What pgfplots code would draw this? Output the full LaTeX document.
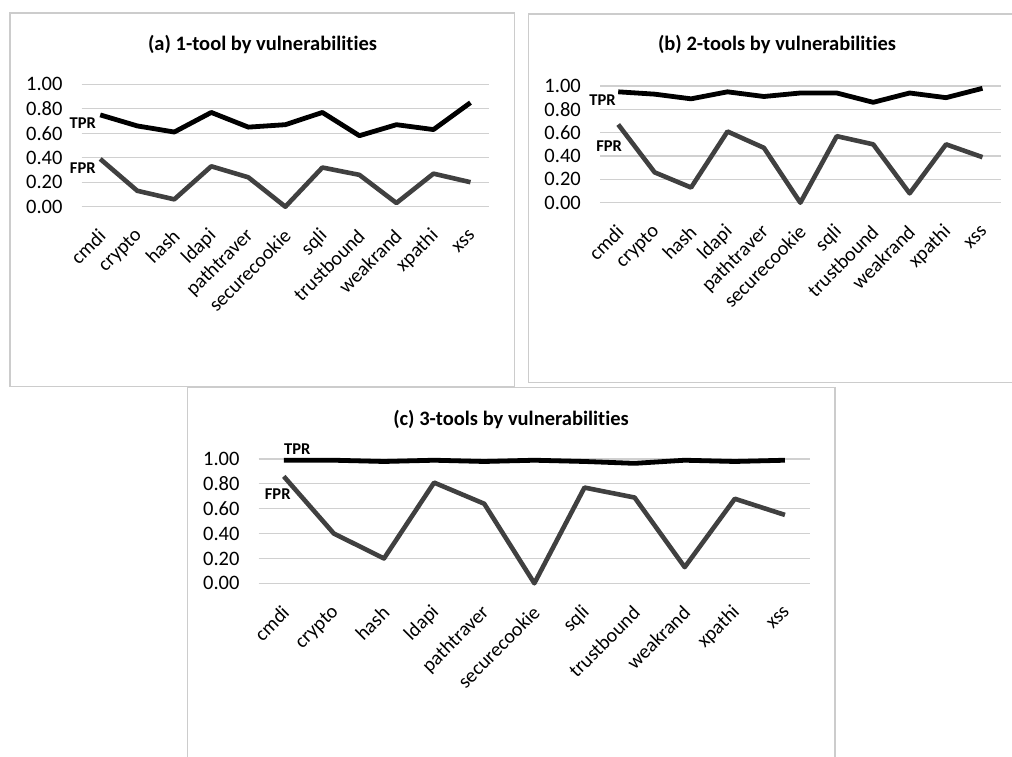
\documentclass[border=0pt]{standalone}
\usepackage{fontspec}
\setmainfont{Carlito}[Ligatures={NoCommon}]
\usepackage{pgfplots}
\pgfplotsset{compat=1.18}

\definecolor{fprgray}{HTML}{404040}
\definecolor{gridgray}{HTML}{D0D0D0}
\definecolor{boxgray}{HTML}{CCCCCC}

\tikzset{
  tprline/.style={black, line width=4.8pt, line join=round, mark=none},
  fprline/.style={fprgray, line width=4.6pt, line join=round, mark=none},
  lbl/.style={font=\bfseries\fontsize{16.5}{17}\selectfont, inner sep=0pt},
}
\pgfplotsset{
  vulnstyle/.style={
    scale only axis,
    axis line style={draw=none},
    xmin=-0.5, xmax=10.5, ymin=0, ymax=1,
    xtick={0,...,10},
    xticklabels={cmdi,crypto,hash,ldapi,pathtraver,securecookie,sqli,trustbound,weakrand,xpathi,xss},
    ytick={0,0.2,0.4,0.6,0.8,1},
    yticklabels={0.00,0.20,0.40,0.60,0.80,1.00},
    major tick length=0pt,
    ymajorgrids,
    grid style={gridgray, line width=1.2pt},
    y tick label style={font=\fontsize{20.5}{21}\selectfont, anchor=east, inner sep=0pt, xshift=-19pt},
    x tick label style={font=\fontsize{20}{21}\selectfont, xshift=2pt, yshift=-26pt, rotate=45, anchor=east, inner sep=0pt},
    clip=false,
  },
}

\begin{document}
\begin{tikzpicture}[x=1pt,y=1pt]
\useasboundingbox (0,0) rectangle (1012,757);
\fill[white] (0,0) rectangle (1012,757);

% panel frames
\draw[boxgray, line width=1.5pt] (10,744) rectangle (514.5,370.5);
\draw[boxgray, line width=1.5pt] (528.3,743) rectangle (1030,374.7);
\draw[boxgray, line width=1.5pt] (187.3,369.7) rectangle (835,-50);

% titles
\node[font=\bfseries\fontsize{20.5}{21}\selectfont] at (262.5,712) {(a) 1-tool by vulnerabilities};
\node[font=\bfseries\fontsize{20.5}{21}\selectfont] at (777,712) {(b) 2-tools by vulnerabilities};
\node[font=\bfseries\fontsize{20.5}{21}\selectfont] at (511,337) {(c) 3-tools by vulnerabilities};

% (a)
\begin{axis}[vulnstyle, at={(81.7pt,550.3pt)}, anchor=south west, width=407.3pt, height=122.4pt]
\addplot[tprline] coordinates {(0,0.75) (1,0.66) (2,0.61) (3,0.77) (4,0.65) (5,0.67) (6,0.77) (7,0.58) (8,0.67) (9,0.63) (10,0.85)};
\addplot[fprline] coordinates {(0,0.39) (1,0.13) (2,0.06) (3,0.33) (4,0.24) (5,0.00) (6,0.32) (7,0.26) (8,0.03) (9,0.27) (10,0.20)};
\node[lbl] at (axis cs:-0.47,0.681) {TPR};
\node[lbl] at (axis cs:-0.47,0.314) {FPR};
\end{axis}

% (b)
\begin{axis}[vulnstyle, at={(600pt,554.3pt)}, anchor=south west, width=400.7pt, height=116.7pt]
\addplot[tprline] coordinates {(0,0.95) (1,0.93) (2,0.89) (3,0.95) (4,0.91) (5,0.94) (6,0.94) (7,0.86) (8,0.94) (9,0.90) (10,0.98)};
\addplot[fprline] coordinates {(0,0.67) (1,0.26) (2,0.13) (3,0.61) (4,0.47) (5,0.00) (6,0.57) (7,0.50) (8,0.08) (9,0.50) (10,0.39)};
\node[lbl] at (axis cs:-0.43,0.88) {TPR};
\node[lbl] at (axis cs:-0.25,0.486) {FPR};
\end{axis}

% (c)
\begin{axis}[vulnstyle, at={(258.7pt,173.7pt)}, anchor=south west, width=551.3pt, height=124.3pt]
\addplot[tprline] coordinates {(0,0.99) (1,0.99) (2,0.98) (3,0.99) (4,0.98) (5,0.99) (6,0.98) (7,0.965) (8,0.99) (9,0.98) (10,0.99)};
\addplot[fprline] coordinates {(0,0.86) (1,0.40) (2,0.20) (3,0.81) (4,0.64) (5,0.00) (6,0.77) (7,0.69) (8,0.13) (9,0.68) (10,0.55)};
\node[lbl] at (axis cs:0.27,1.078) {TPR};
\node[lbl] at (axis cs:-0.12,0.718) {FPR};
\end{axis}
\end{tikzpicture}
\end{document}
